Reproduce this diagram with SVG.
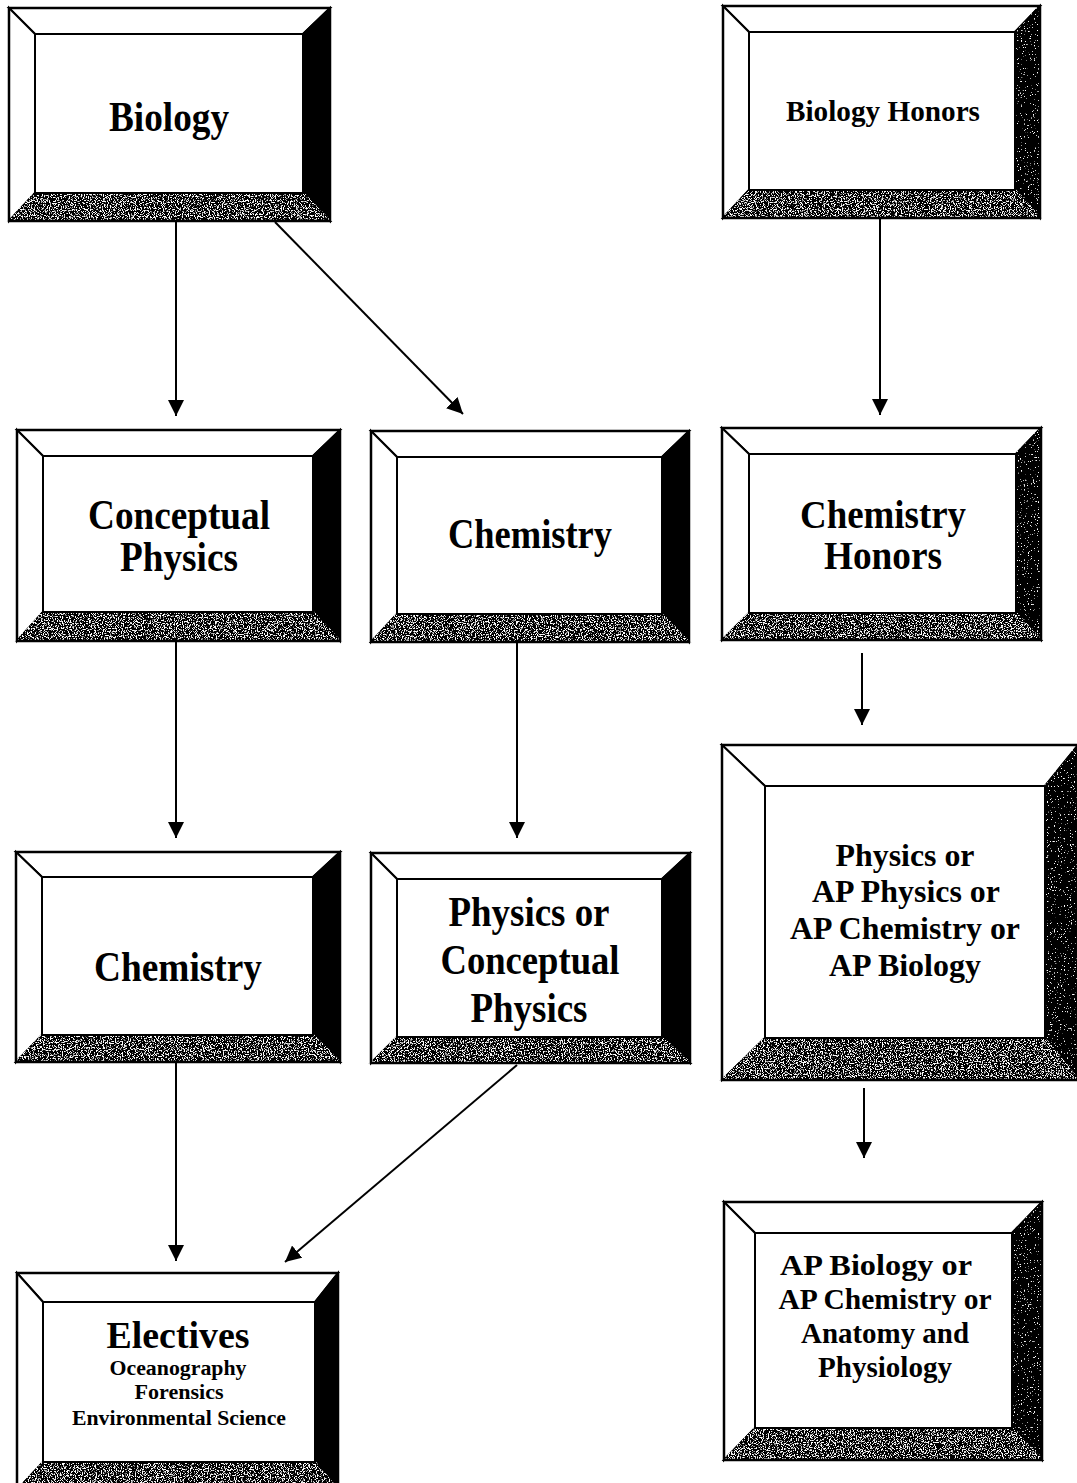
<svg xmlns="http://www.w3.org/2000/svg" width="1077" height="1483" viewBox="0 0 1077 1483">
<defs>
<style>
.bv{stroke:#000;stroke-width:2;stroke-linejoin:miter}
.lt{fill:#fff}
.dk{fill:#000}
.fl{fill:#000;filter:url(#grain)}
.dk2{fill:#000;filter:url(#grain2)}
.face{fill:#fff;stroke:#000;stroke-width:2}
.frame{fill:none;stroke:#000;stroke-width:2.5}
text{font-family:"Liberation Serif","Times New Roman",serif;font-weight:bold;fill:#000;text-anchor:middle}
.big{font-size:42px}
.mid{font-size:31px}
.sm{font-size:20px}
.con{fill:none;stroke:#000;stroke-width:2;marker-end:url(#ah)}
</style>
<filter id="grain" x="-0.05" y="-0.1" width="1.1" height="1.2">
<feTurbulence type="fractalNoise" baseFrequency="0.85" numOctaves="2" seed="4" result="n"/>
<feColorMatrix in="n" type="matrix" values="0 0 0 0 1  0 0 0 0 1  0 0 0 0 1  10 0 0 0 -5.3" result="w"/>
<feComposite in="w" in2="SourceGraphic" operator="in" result="wc"/>
<feMerge><feMergeNode in="SourceGraphic"/><feMergeNode in="wc"/></feMerge>
</filter>
<filter id="grain2" x="-0.1" y="-0.05" width="1.2" height="1.1">
<feTurbulence type="fractalNoise" baseFrequency="0.7" numOctaves="2" seed="9" result="n"/>
<feColorMatrix in="n" type="matrix" values="0 0 0 0 1  0 0 0 0 1  0 0 0 0 1  12 0 0 0 -8" result="w"/>
<feComposite in="w" in2="SourceGraphic" operator="in" result="wc"/>
<feMerge><feMergeNode in="SourceGraphic"/><feMergeNode in="wc"/></feMerge>
</filter>
<marker id="ah" viewBox="0 0 16 16" refX="16" refY="8" markerWidth="16" markerHeight="16" markerUnits="userSpaceOnUse" orient="auto">
<path d="M0,0 L16,8 L0,16 z" fill="#000"/>
</marker>
</defs>
<rect width="1077" height="1483" fill="#fff"/>

<g id="biology">
<polygon class="bv lt" points="9,8 330,8 303,34 35,34"/>
<polygon class="bv lt" points="9,8 35,34 35,193 9,221"/>
<polygon class="bv dk" points="330,8 330,221 303,193 303,34"/>
<polygon class="bv fl" points="9,221 35,193 303,193 330,221"/>
<rect class="face" x="35" y="34" width="268" height="159"/>
<rect class="frame" x="9" y="8" width="321" height="213"/>
<text class="big" x="169" y="131" textLength="120" lengthAdjust="spacingAndGlyphs">Biology</text>
</g>

<g id="biology-honors">
<polygon class="bv lt" points="723,6 1040,6 1015,32 749,32"/>
<polygon class="bv lt" points="723,6 749,32 749,190 723,218"/>
<polygon class="bv dk2" points="1040,6 1040,218 1015,190 1015,32"/>
<polygon class="bv fl" points="723,218 749,190 1015,190 1040,218"/>
<rect class="face" x="749" y="32" width="266" height="158"/>
<rect class="frame" x="723" y="6" width="317" height="212"/>
<text class="mid" x="883" y="121" textLength="194" lengthAdjust="spacingAndGlyphs" style="font-size:30px">Biology Honors</text>
</g>

<g id="conceptual-physics">
<polygon class="bv lt" points="17,430 340,430 313,456 43,456"/>
<polygon class="bv lt" points="17,430 43,456 43,612 17,641"/>
<polygon class="bv dk" points="340,430 340,641 313,612 313,456"/>
<polygon class="bv fl" points="17,641 43,612 313,612 340,641"/>
<rect class="face" x="43" y="456" width="270" height="156"/>
<rect class="frame" x="17" y="430" width="323" height="211"/>
<text class="big" x="179" y="529" textLength="182" lengthAdjust="spacingAndGlyphs">Conceptual</text>
<text class="big" x="179" y="571" textLength="118" lengthAdjust="spacingAndGlyphs">Physics</text>
</g>

<g id="chemistry-1">
<polygon class="bv lt" points="371,431 689,431 662,457 397,457"/>
<polygon class="bv lt" points="371,431 397,457 397,614 371,642"/>
<polygon class="bv dk" points="689,431 689,642 662,614 662,457"/>
<polygon class="bv fl" points="371,642 397,614 662,614 689,642"/>
<rect class="face" x="397" y="457" width="265" height="157"/>
<rect class="frame" x="371" y="431" width="318" height="211"/>
<text class="big" x="530" y="548" textLength="164" lengthAdjust="spacingAndGlyphs">Chemistry</text>
</g>

<g id="chemistry-honors">
<polygon class="bv lt" points="722,428 1041,428 1016,454 749,454"/>
<polygon class="bv lt" points="722,428 749,454 749,613 722,640"/>
<polygon class="bv dk2" points="1041,428 1041,640 1016,613 1016,454"/>
<polygon class="bv fl" points="722,640 749,613 1016,613 1041,640"/>
<rect class="face" x="749" y="454" width="267" height="159"/>
<rect class="frame" x="722" y="428" width="319" height="212"/>
<text class="big" x="883" y="528" textLength="166" lengthAdjust="spacingAndGlyphs" style="font-size:40px">Chemistry</text>
<text class="big" x="883" y="569" textLength="118" lengthAdjust="spacingAndGlyphs" style="font-size:40px">Honors</text>
</g>

<g id="chemistry-2">
<polygon class="bv lt" points="16,852 340,852 313,877 42,877"/>
<polygon class="bv lt" points="16,852 42,877 42,1035 16,1062"/>
<polygon class="bv dk" points="340,852 340,1062 313,1035 313,877"/>
<polygon class="bv fl" points="16,1062 42,1035 313,1035 340,1062"/>
<rect class="face" x="42" y="877" width="271" height="158"/>
<rect class="frame" x="16" y="852" width="324" height="210"/>
<text class="big" x="178" y="981" textLength="168" lengthAdjust="spacingAndGlyphs">Chemistry</text>
</g>

<g id="physics-or-conceptual">
<polygon class="bv lt" points="371,853 690,853 662,879 397,879"/>
<polygon class="bv lt" points="371,853 397,879 397,1037 371,1063"/>
<polygon class="bv dk" points="690,853 690,1063 662,1037 662,879"/>
<polygon class="bv fl" points="371,1063 397,1037 662,1037 690,1063"/>
<rect class="face" x="397" y="879" width="265" height="158"/>
<rect class="frame" x="371" y="853" width="319" height="210"/>
<text class="big" x="529" y="926" textLength="161" lengthAdjust="spacingAndGlyphs">Physics or</text>
<text class="big" x="530" y="974" textLength="179" lengthAdjust="spacingAndGlyphs">Conceptual</text>
<text class="big" x="529" y="1022" textLength="117" lengthAdjust="spacingAndGlyphs">Physics</text>
</g>

<g id="physics-or-ap">
<polygon class="bv lt" points="722,745 1078,745 1045,786 765,786"/>
<polygon class="bv lt" points="722,745 765,786 765,1038 722,1080"/>
<polygon class="bv dk2" points="1078,745 1078,1080 1045,1038 1045,786"/>
<polygon class="bv fl" points="722,1080 765,1038 1045,1038 1078,1080"/>
<rect class="face" x="765" y="786" width="280" height="252"/>
<rect class="frame" x="722" y="745" width="356" height="335"/>
<text class="mid" x="905" y="866" textLength="139" lengthAdjust="spacingAndGlyphs">Physics or</text>
<text class="mid" x="906" y="902" textLength="188" lengthAdjust="spacingAndGlyphs">AP Physics or</text>
<text class="mid" x="905" y="939" textLength="230" lengthAdjust="spacingAndGlyphs">AP Chemistry or</text>
<text class="mid" x="905" y="976" textLength="152" lengthAdjust="spacingAndGlyphs">AP Biology</text>
</g>

<g id="electives">
<polygon class="bv lt" points="17,1273 338,1273 315,1302 43,1302"/>
<polygon class="bv lt" points="17,1273 43,1302 43,1462 17,1490"/>
<polygon class="bv dk" points="338,1273 338,1490 315,1462 315,1302"/>
<polygon class="bv fl" points="17,1490 43,1462 315,1462 338,1490"/>
<rect class="face" x="43" y="1302" width="272" height="160"/>
<rect class="frame" x="17" y="1273" width="321" height="217"/>
<text x="178" y="1348" textLength="143" lengthAdjust="spacingAndGlyphs" style="font-size:37px">Electives</text>
<text class="sm" x="178" y="1375" textLength="137" lengthAdjust="spacingAndGlyphs">Oceanography</text>
<text class="sm" x="179" y="1399" textLength="89" lengthAdjust="spacingAndGlyphs">Forensics</text>
<text class="sm" x="179" y="1425" textLength="214" lengthAdjust="spacingAndGlyphs">Environmental Science</text>
</g>

<g id="ap-biology-or">
<polygon class="bv lt" points="724,1202 1042,1202 1012,1233 755,1233"/>
<polygon class="bv lt" points="724,1202 755,1233 755,1428 724,1460"/>
<polygon class="bv dk2" points="1042,1202 1042,1460 1012,1428 1012,1233"/>
<polygon class="bv fl" points="724,1460 755,1428 1012,1428 1042,1460"/>
<rect class="face" x="755" y="1233" width="257" height="195"/>
<rect class="frame" x="724" y="1202" width="318" height="258"/>
<text x="876" y="1275" textLength="192" lengthAdjust="spacingAndGlyphs" style="font-size:29px">AP Biology or</text>
<text x="885" y="1309" textLength="213" lengthAdjust="spacingAndGlyphs" style="font-size:29px">AP Chemistry or</text>
<text x="885" y="1343" textLength="168" lengthAdjust="spacingAndGlyphs" style="font-size:29px">Anatomy and</text>
<text x="885" y="1377" textLength="134" lengthAdjust="spacingAndGlyphs" style="font-size:29px">Physiology</text>
</g>

<g id="connectors">
<path class="con" d="M176,222 L176,416"/>
<path class="con" d="M275,222 L463,414"/>
<path class="con" d="M880,219 L880,415"/>
<path class="con" d="M176,642 L176,838"/>
<path class="con" d="M517,643 L517,838"/>
<path class="con" d="M862,653 L862,725"/>
<path class="con" d="M864,1088 L864,1158"/>
<path class="con" d="M176,1063 L176,1261"/>
<path class="con" d="M517,1065 L285,1262"/>
</g>
</svg>
